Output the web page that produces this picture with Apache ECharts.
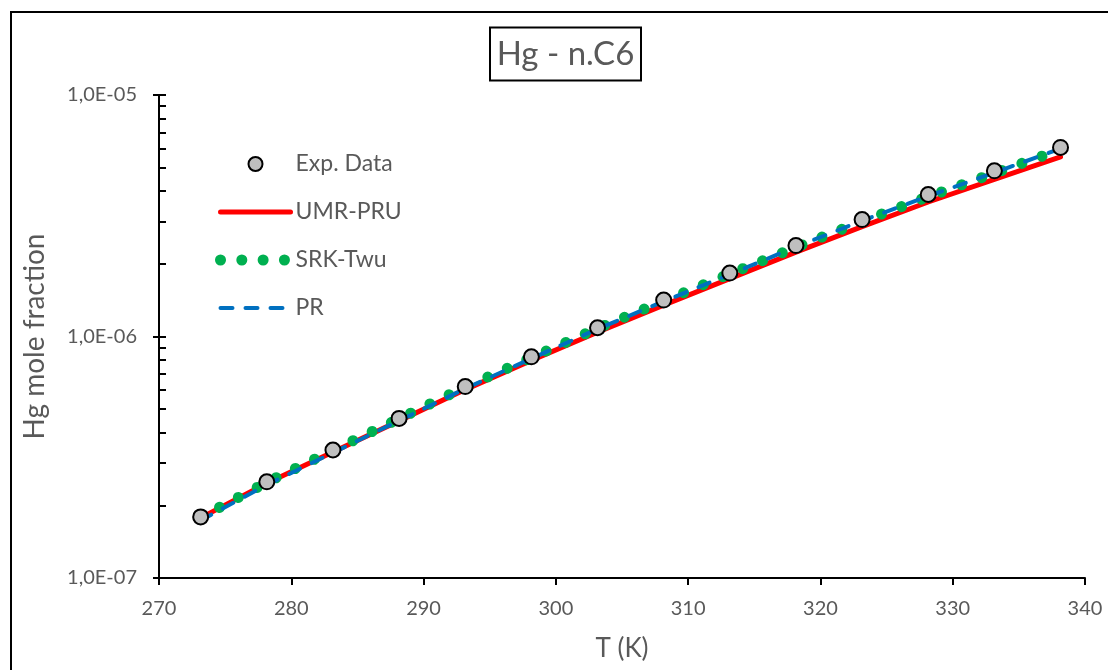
<!DOCTYPE html>
<html>
<head>
<meta charset="utf-8">
<script src="https://cdn.jsdelivr.net/npm/echarts@6/dist/echarts.min.js"></script>
<style>
  html, body { margin: 0; padding: 0; background: #fff; }
  #chart { width: 1108px; height: 670px; }
</style>
</head>
<body>
<div id="chart"></div>
<script>
// ---- data ----
const temperatures = [273.15, 278.15, 283.15, 288.15, 293.15, 298.15, 303.15, 308.15, 313.15, 318.15, 323.15, 328.15, 333.15, 338.15];
const expData = [1.791e-7, 2.502e-7, 3.388e-7, 4.581e-7, 6.202e-7, 8.236e-7, 1.087e-6, 1.415e-6, 1.831e-6, 2.379e-6, 3.050e-6, 3.872e-6, 4.852e-6, 6.067e-6];
const umrPru = [1.774e-7, 2.467e-7, 3.323e-7, 4.473e-7, 6.027e-7, 7.966e-7, 1.041e-6, 1.349e-6, 1.737e-6, 2.236e-6, 2.852e-6, 3.605e-6, 4.473e-6, 5.546e-6];
const srkTwu = [1.783e-7, 2.490e-7, 3.381e-7, 4.568e-7, 6.172e-7, 8.182e-7, 1.080e-6, 1.404e-6, 1.817e-6, 2.340e-6, 3.000e-6, 3.792e-6, 4.746e-6, 5.941e-6];
const prModel = [1.732e-7, 2.432e-7, 3.301e-7, 4.482e-7, 6.085e-7, 8.104e-7, 1.074e-6, 1.397e-6, 1.808e-6, 2.352e-6, 3.015e-6, 3.810e-6, 4.769e-6, 5.998e-6];

const seriesNames = ['Exp. Data', 'UMR-PRU', 'SRK-Twu', 'PR'];
const xTickValues = [270, 280, 290, 300, 310, 320, 330, 340];
const yTickValues = [1e-7, 1e-6, 1e-5];
const yTickLabels = ['1,0E-07', '1,0E-06', '1,0E-05'];
const yMinorTickValues = [1e-7, 2e-7, 3e-7, 4e-7, 5e-7, 6e-7, 7e-7, 8e-7, 9e-7,
                          1e-6, 2e-6, 3e-6, 4e-6, 5e-6, 6e-6, 7e-6, 8e-6, 9e-6, 1e-5];
const chartTitle = 'Hg - n.C6';
const xAxisTitle = 'T (K)';
const yAxisTitle = 'Hg mole fraction';

// ---- chart ----
const FONT = 'Lato';
const TXT = '#595959';
const pair = (ys) => temperatures.map((t, i) => [t, ys[i]]);

const chart = echarts.init(document.getElementById('chart'), null, { renderer: 'canvas' });
chart.setOption({
  animation: false,
  backgroundColor: '#fff',
  textStyle: { fontFamily: FONT },
  grid: { left: 159, right: 23, top: 95, bottom: 92, containLabel: false },
  graphic: [
    { type: 'rect', silent: true, z: 100,
      shape: { x: 11, y: 12, width: 1300, height: 1000 },
      style: { fill: 'none', stroke: '#000', lineWidth: 2 } },
    { type: 'rect', silent: true, z: 100,
      shape: { x: 490, y: 27.5, width: 151, height: 53 },
      style: { fill: '#fff', stroke: '#000', lineWidth: 2 } },
    { type: 'text', silent: true, z: 101, x: 565.5, y: 54,
      style: { text: chartTitle, fill: TXT, font: '33px ' + FONT, align: 'center', verticalAlign: 'middle' } }
  ],
  legend: {
    orient: 'vertical',
    left: 215, top: 151, padding: 0,
    itemWidth: 70, itemHeight: 14, itemGap: 22,
    textStyle: { fontSize: 23, color: TXT, fontFamily: FONT, lineHeight: 26 },
    data: [
      { name: seriesNames[0], icon: 'circle', itemStyle: { color: '#BFBFBF', borderColor: '#000', borderWidth: 2 } },
      { name: seriesNames[1], itemStyle: { opacity: 0 }, lineStyle: { width: 5, color: '#FF0000', cap: 'round' } },
      { name: seriesNames[2], itemStyle: { opacity: 0 }, lineStyle: { width: 11, color: '#00B050', type: [0.01, 21.3], cap: 'round' } },
      { name: seriesNames[3], itemStyle: { opacity: 0 }, lineStyle: { width: 4, color: '#0070C0', type: [12, 13], cap: 'round' } }
    ]
  },
  xAxis: {
    type: 'value', min: 270, max: 340, interval: 10,
    name: xAxisTitle, nameLocation: 'middle', nameGap: 58,
    nameTextStyle: { fontSize: 26, color: TXT, fontFamily: FONT },
    axisLine: { show: true, lineStyle: { color: '#000', width: 2 } },
    axisTick: { show: true, inside: false, length: 7, lineStyle: { color: '#000', width: 2 } },
    axisLabel: { fontSize: 20, color: TXT, fontFamily: FONT, margin: 21,
      formatter: (v) => xTickValues.indexOf(v) >= 0 ? String(v) : '' },
    splitLine: { show: false }
  },
  yAxis: [
    {
      type: 'log', logBase: 10, min: 1e-7, max: 1e-5,
      name: yAxisTitle, nameLocation: 'middle', nameGap: 110, nameRotate: 90,
      nameTextStyle: { fontSize: 28, color: TXT, fontFamily: FONT },
      axisLine: { show: true, lineStyle: { color: '#000', width: 2 } },
      axisTick: { show: true, inside: false, length: 6, lineStyle: { color: '#000', width: 2 } },
      axisLabel: { fontSize: 20, color: TXT, fontFamily: FONT, margin: 22,
        formatter: (v) => {
          const i = yTickValues.findIndex(t => Math.abs(Math.log10(t) - Math.log10(v)) < 1e-6);
          return i >= 0 ? yTickLabels[i] : '';
        } },
      splitLine: { show: false },
      minorTick: { show: false }
    },
    {
      type: 'log', logBase: 10, min: 1e-7, max: 1e-5, position: 'left',
      axisLine: { show: false },
      axisTick: { show: true, inside: true, length: 7, customValues: yMinorTickValues,
        lineStyle: { color: '#000', width: 2 } },
      axisLabel: { show: false },
      splitLine: { show: false }
    }
  ],
  series: [
    {
      name: seriesNames[0], type: 'scatter', data: pair(expData), z: 5,
      symbol: 'circle', symbolSize: 15,
      itemStyle: { color: '#BFBFBF', borderColor: '#000', borderWidth: 2, opacity: 1 }
    },
    {
      name: seriesNames[1], type: 'line', data: pair(umrPru), z: 2,
      symbol: 'none', smooth: false,
      lineStyle: { color: '#FF0000', width: 5, cap: 'round' }
    },
    {
      name: seriesNames[2], type: 'line', data: pair(srkTwu), z: 3,
      symbol: 'none', smooth: false,
      lineStyle: { color: '#00B050', width: 11, type: [0.01, 21.3], cap: 'round' }
    },
    {
      name: seriesNames[3], type: 'line', data: pair(prModel), z: 4,
      symbol: 'none', smooth: false,
      lineStyle: { color: '#0070C0', width: 4, type: [12, 13], cap: 'round' }
    }
  ]
});
</script>
</body>
</html>
